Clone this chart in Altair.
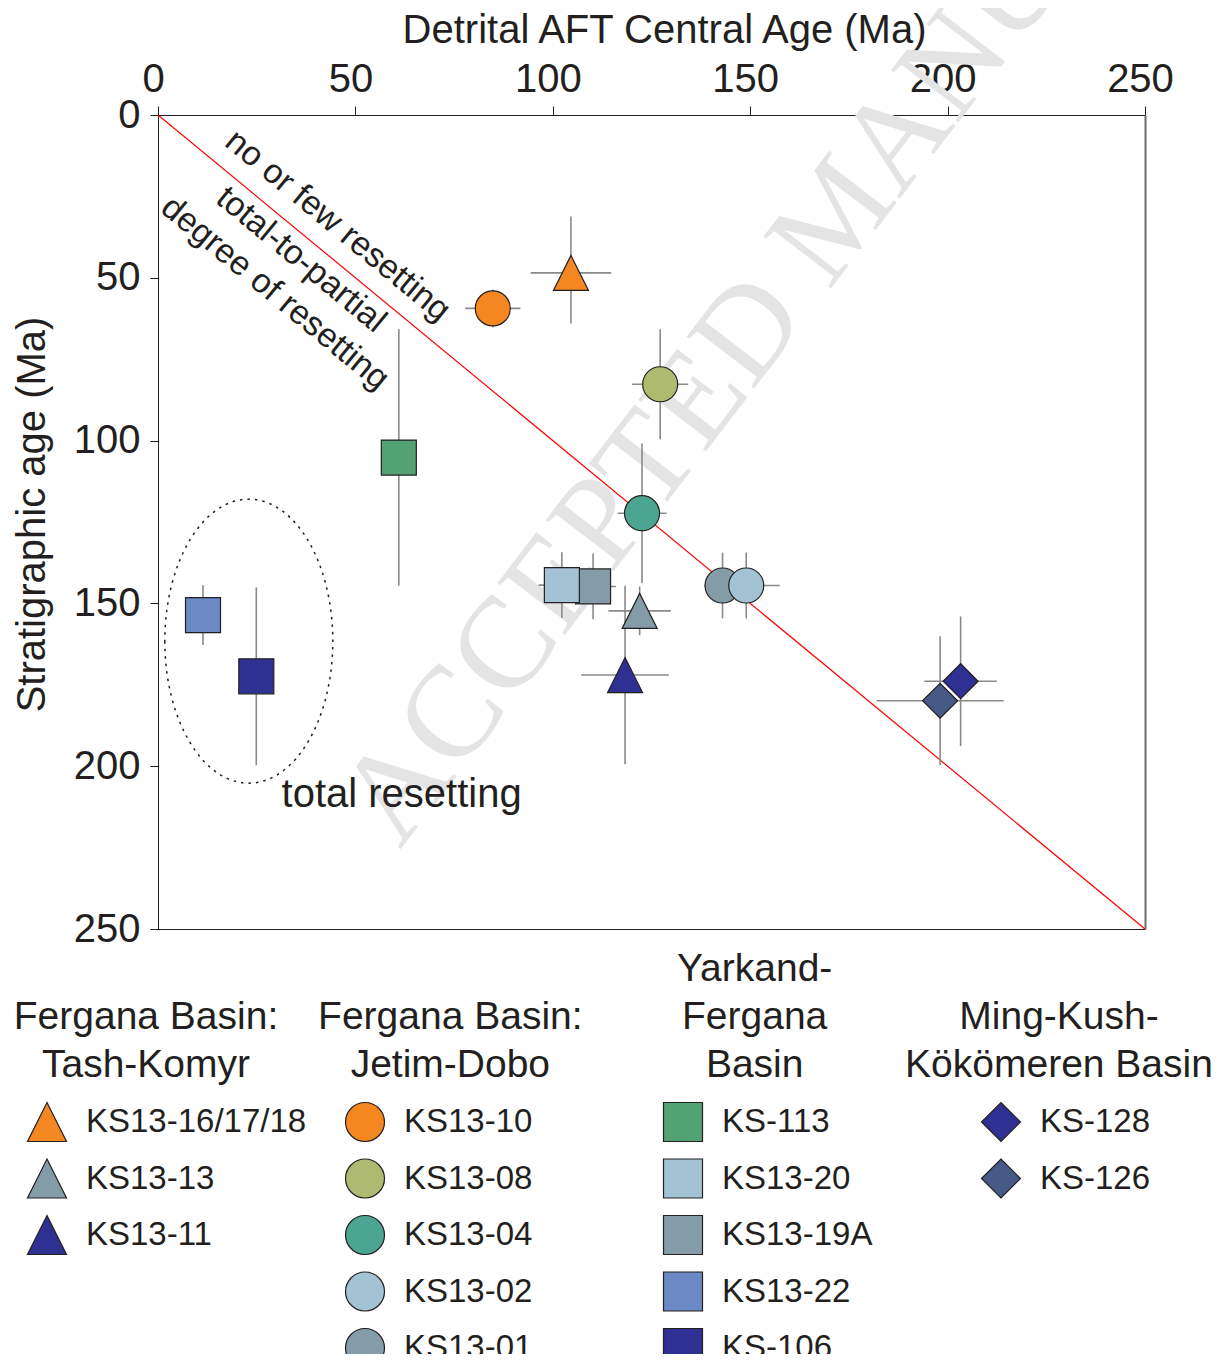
import altair as alt
import pandas as pd

# ---------------- data ----------------
samples = ["KS13-16/17/18", "KS13-13", "KS13-11",
           "KS13-10", "KS13-08", "KS13-04", "KS13-01", "KS13-02",
           "KS-113", "KS13-19A", "KS13-20", "KS13-22", "KS-106",
           "KS-126", "KS-128"]
basin = (["Fergana Basin: Tash-Komyr"] * 3 + ["Fergana Basin: Jetim-Dobo"] * 5
         + ["Yarkand-Fergana Basin"] * 5 + ["Ming-Kush-Kökömeren Basin"] * 2)
aft_age = [104.6, 122.0, 118.3, 84.8, 127.2, 122.6, 143.0, 149.0,
           61.0, 110.2, 102.3, 11.4, 24.9, 198.1, 203.3]
aft_err = [10.2, 7.9, 11.1, 7.0, 7.1, 6.2, 4.7, 8.5,
           3.0, 5.8, 5.9, 3.0, 3.0, 16.1, 9.2]
strat_age = [48.5, 152.3, 172.0, 59.4, 82.7, 122.3, 144.5, 144.5,
             105.2, 144.8, 144.4, 153.6, 172.4, 179.9, 173.9]
strat_err_young = [17.3, 7.5, 27.4, 5.8, 16.9, 21.4, 10.1, 10.1,
                   39.4, 10.1, 10.1, 9.2, 27.3, 19.8, 19.9]
strat_err_old = [15.5, 7.5, 27.4, 5.8, 16.9, 21.4, 10.1, 10.1,
                 39.4, 10.1, 10.1, 9.2, 27.3, 19.8, 19.9]

basin_names = ["Fergana Basin: Tash-Komyr", "Fergana Basin: Jetim-Dobo",
               "Yarkand-Fergana Basin", "Ming-Kush-Kökömeren Basin"]
basin_heading_lines = [["Fergana Basin:", "Tash-Komyr"],
                       ["Fergana Basin:", "Jetim-Dobo"],
                       ["Yarkand-", "Fergana", "Basin"],
                       ["Ming-Kush-", "Kökömeren Basin"]]
legend_order = [
    ["KS13-16/17/18", "KS13-13", "KS13-11"],
    ["KS13-10", "KS13-08", "KS13-04", "KS13-02", "KS13-01"],
    ["KS-113", "KS13-20", "KS13-19A", "KS13-22", "KS-106"],
    ["KS-128", "KS-126"],
]

# 1:1 line (AFT age = stratigraphic age)
line_from = [0, 0]
line_to = [250, 250]

# annotations
diag_labels = ["no or few resetting", "total-to-partial", "degree of resetting"]
diag_label_x = [45.5, 36.2, 29.6]
diag_label_y = [34.1, 44.5, 54.8]
zone_label = "total resetting"
zone_label_xy = [61.7, 212.4]
ellipse_center = [23.0, 161.6]
watermark = "ACCEPTED MANUSCRIPT"
watermark_xy = [61.3, 225.7]

x_ticks = [0, 50, 100, 150, 200, 250]
y_ticks = [0, 50, 100, 150, 200, 250]

# ---------------- styles ----------------
palette = ["#F4871F", "#849CA8", "#2E3092",
           "#F4871F", "#ADBA70", "#4BA591", "#849CA8", "#A3C2D3",
           "#53A274", "#849CA8", "#A3C2D3", "#6A89C5", "#2E3092",
           "#475A85", "#2E3092"]
shape_range = ["M0,-1L1,1L-1,1Z", "circle", "square", "diamond"]
ellipse_path = "M-0.5915,0 A0.5915,1 0 1,0 0.5915,0 A0.5915,1 0 1,0 -0.5915,0 Z"
INK = "#231F20"
FONT = "Liberation Sans"
FS = 40

# ---------------- tables ----------------
df = pd.DataFrame({
    "sample": samples, "basin": basin, "aft": aft_age, "aft_err": aft_err,
    "strat": strat_age, "err_young": strat_err_young, "err_old": strat_err_old,
})
leg_rows = []
for g, names in zip(basin_names, legend_order):
    for i, s in enumerate(names):
        leg_rows.append({"basin": g, "row": i, "sample": s})
leg = pd.DataFrame(leg_rows)
head_rows = []
for g, lines in zip(basin_names, basin_heading_lines):
    n = len(lines)
    for i, t in enumerate(lines):
        head_rows.append({"basin": g, "line_from_bottom": n - 1 - i, "text": t})
heads = pd.DataFrame(head_rows)
diag = pd.DataFrame({"text": diag_labels, "x": diag_label_x, "y": diag_label_y})
line_df = pd.DataFrame({"x": [line_from[0]], "y": [line_from[1]],
                        "x2": [line_to[0]], "y2": [line_to[1]]})
zone_df = pd.DataFrame({"text": [zone_label], "x": [zone_label_xy[0]], "y": [zone_label_xy[1]]})
ell_df = pd.DataFrame({"x": [ellipse_center[0]], "y": [ellipse_center[1]]})
wm_df = pd.DataFrame({"text": [watermark], "x": [watermark_xy[0]], "y": [watermark_xy[1]]})

xs = alt.Scale(domain=[0, 250], nice=False, zero=False)
ys = alt.Scale(domain=[0, 250], nice=False, reverse=True)
shape_scale = alt.Scale(domain=basin_names, range=shape_range)
fill_scale = alt.Scale(domain=samples, range=palette)


def X(f):
    return alt.X(f, type="quantitative", scale=xs, axis=None)


def Y(f):
    return alt.Y(f, type="quantitative", scale=ys, axis=None)


wm = alt.Chart(wm_df).mark_text(
    angle=307.5, align="left", baseline="alphabetic", font="Liberation Serif",
    fontSize=130, color="#E4E4E4"
).encode(x=X("x"), y=Y("y"), text="text:N")

# 1:1 line; this layer also carries the frame's bottom and right edges
one_to_one = alt.Chart(line_df).mark_rule(color="#FF0000", strokeWidth=1.2).encode(
    x=alt.X("x:Q", scale=xs, axis=alt.Axis(orient="bottom", labels=False, ticks=False,
                                           grid=False, title=None, domainColor=INK,
                                           domainWidth=1.2)),
    y=alt.Y("y:Q", scale=ys, axis=alt.Axis(orient="right", labels=False, ticks=False,
                                           grid=False, title=None, domainColor="#6E6E6E",
                                           domainWidth=2)),
    x2="x2:Q", y2="y2:Q")

ellipse = alt.Chart(ell_df).mark_point(
    shape=ellipse_path, size=80656, filled=False, stroke=INK, strokeWidth=1.5,
    strokeDash=[2.5, 5], opacity=1
).encode(x=X("x"), y=Y("y"))

diag_text = alt.Chart(diag).mark_text(
    angle=39.5, align="center", baseline="middle", font=FONT, fontSize=34, color=INK
).encode(x=X("x"), y=Y("y"), text="text:N")

zone_text = alt.Chart(zone_df).mark_text(
    align="center", baseline="alphabetic", font=FONT, fontSize=FS, color=INK
).encode(x=X("x"), y=Y("y"), text="text:N")

err_h = alt.Chart(df).transform_calculate(
    lo="datum.aft - datum.aft_err", hi="datum.aft + datum.aft_err"
).mark_rule(color="#8A8A8A", strokeWidth=1.6).encode(x=X("lo"), x2="hi:Q", y=Y("strat"))

err_v = alt.Chart(df).transform_calculate(
    lo="datum.strat - datum.err_young", hi="datum.strat + datum.err_old"
).mark_rule(color="#8A8A8A", strokeWidth=1.6).encode(x=X("aft"), y=Y("lo"), y2="hi:Q")

points = alt.Chart(df).mark_point(
    filled=True, size=1225, stroke=INK, strokeWidth=1.2, opacity=1, fillOpacity=1
).encode(
    x=alt.X("aft:Q", scale=xs, title="Detrital AFT Central Age (Ma)",
            axis=alt.Axis(orient="top", values=x_ticks, grid=False, tickSize=9,
                          labelPadding=15, labelBaseline="alphabetic", labelOffset=-5,
                          labelFlush=False, labelOverlap=False, labelFontSize=FS,
                          labelFont=FONT, labelColor=INK, domainColor=INK, tickColor=INK,
                          titleFont=FONT, titleFontSize=FS, titleFontWeight="normal",
                          titleColor=INK, titleX=506, titleY=-73,
                          titleBaseline="alphabetic", titleAlign="center")),
    y=alt.Y("strat:Q", scale=ys, title="Stratigraphic age (Ma)",
            axis=alt.Axis(orient="left", values=y_ticks, grid=False, tickSize=8,
                          labelPadding=10, labelFlush=False, labelOverlap=False,
                          labelFontSize=FS, labelFont=FONT, labelColor=INK,
                          domainColor=INK, tickColor=INK, titleFont=FONT,
                          titleFontSize=FS, titleFontWeight="normal", titleColor=INK,
                          titleAngle=270, titleX=-126, titleY=399,
                          titleBaseline="middle", titleAlign="center")),
    shape=alt.Shape("basin:N", scale=shape_scale, legend=None),
    fill=alt.Fill("sample:N", scale=fill_scale, legend=None),
)

# ---------------- custom grouped legend below the plot ----------------
leg_x = alt.X("basin:N", scale=alt.Scale(type="point", domain=basin_names,
                                          range=[-111, 843], padding=0), axis=None)
leg_y = alt.Y("row:Q", scale=alt.Scale(domain=[0, 4], range=[1007, 1233]), axis=None)

leg_marks = alt.Chart(leg).mark_point(
    filled=True, size=1521, stroke=INK, strokeWidth=1.2, opacity=1, fillOpacity=1
).encode(
    x=leg_x, y=leg_y,
    shape=alt.Shape("basin:N", scale=shape_scale, legend=None),
    fill=alt.Fill("sample:N", scale=fill_scale, legend=None),
)
leg_text = alt.Chart(leg).mark_text(
    align="left", baseline="middle", dx=39, font=FONT, fontSize=33, color=INK
).encode(x=leg_x, y=leg_y, text="sample:N")

head_text = alt.Chart(heads).mark_text(
    align="center", baseline="middle", font=FONT, fontSize=39, color=INK
).encode(
    x=alt.X("basin:N", scale=alt.Scale(type="point", domain=basin_names,
                                        range=[-12, 901], padding=0), axis=None),
    y=alt.Y("line_from_bottom:Q", scale=alt.Scale(domain=[0, 2], range=[950, 854]),
            axis=None),
    text="text:N",
)

chart = alt.layer(
    wm, one_to_one, ellipse, diag_text, zone_text, err_h, err_v, points,
    leg_marks, leg_text, head_text
).resolve_scale(
    x="independent", y="independent"
).properties(
    width=987, height=814,
    padding={"left": 150, "top": 107, "right": 70, "bottom": 425},
    autosize=alt.AutoSizeParams(type="none"),
).configure_view(stroke=None).configure(font=FONT)

chart.save("out.html", embed_options={"renderer": "svg", "actions": False})
